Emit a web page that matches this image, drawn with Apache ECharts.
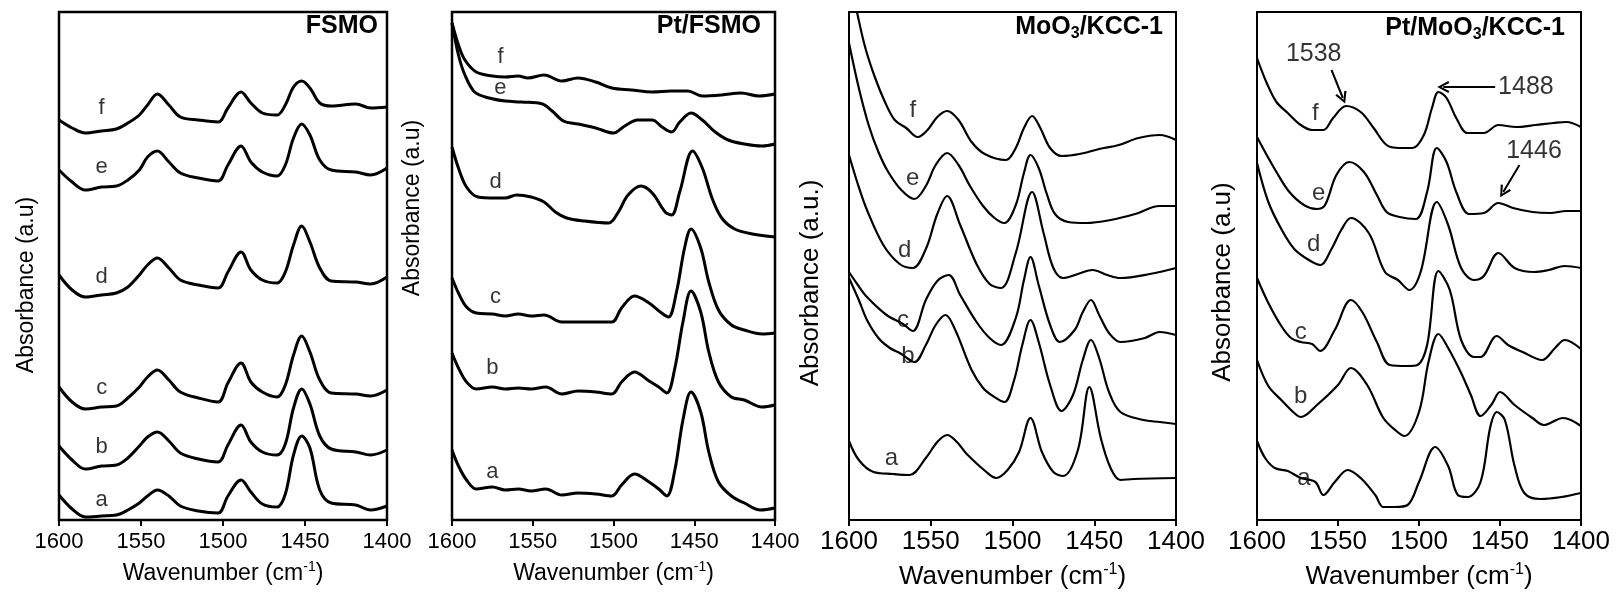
<!DOCTYPE html>
<html><head><meta charset="utf-8">
<script src="https://cdn.jsdelivr.net/npm/echarts@6/dist/echarts.min.js"></script>
<style>html,body{margin:0;padding:0;background:#fff}#c{width:1618px;height:609px}</style>
</head><body><div id="c"></div>
<script>
const FONT = "'Liberation Sans', Arial, Helvetica, sans-serif";

// ---------- Panel 1: FSMO (shared wavenumbers) ----------
const wnFSMO = [1600,1592,1584,1574,1565,1558,1551,1546,1540,1533,1526,1515,1503,1497,1489,1483,1476,1467,1462,1457,1452,1447,1441,1434,1419,1410,1400];
const fsmoF = [400,392,387,389,391,397,405,415,426,415,403,400,398,412,428,417,407,405,415,433,439,432,417,414,416,412,413];
const fsmoE = [350,338,330,333,334,340,350,363,369,358,347,342,339,355,374,358,348,344,355,382,396,385,360,350,348,345,352];
const fsmoD = [245,230,223,225,227,233,245,255,262,252,240,235,232,248,268,250,240,237,248,275,294,278,252,239,238,236,243];
const fsmoC = [133,118,111,113,114,122,133,143,150,140,128,122,118,137,157,138,128,123,135,165,184,168,140,127,126,124,130];
const fsmoB = [74,60,51,54,55,62,74,83,88,79,67,61,58,75,95,78,68,65,76,112,131,116,84,71,68,65,70];
const fsmoA = [25,11,3,4,5,10,17,24,30,24,14,9,7,24,40,28,16,13,26,65,84,72,30,17,15,10,14];

// ---------- Panel 2: Pt/FSMO ----------
const ptF = [[1600,497],[1596,475],[1592,460],[1585,448],[1575,444],[1567,443],[1559,444],[1553,442],[1543,445],[1532,439],[1522,442],[1511,438],[1501,432],[1489,430],[1476,428],[1464,429],[1454,429],[1445,424],[1433,425],[1421,427],[1410,424],[1400,426]];
const ptE = [[1600,497],[1596,465],[1592,445],[1586,428],[1577,422],[1567,419],[1557,418],[1544,416],[1538,409],[1531,399],[1522,396],[1511,392],[1500,387],[1493,394],[1485,400],[1476,400],[1470,393],[1464,388],[1459,398],[1452,407],[1445,400],[1437,388],[1429,380],[1419,376],[1408,374],[1400,376]];
const ptD = [[1600,373],[1596,352],[1591,333],[1584,323],[1573,322],[1567,322],[1560,325],[1551,323],[1543,318],[1536,308],[1529,302],[1518,299],[1503,297],[1497,308],[1491,325],[1483,334],[1476,327],[1468,308],[1464,305],[1459,328],[1451,369],[1445,352],[1439,322],[1433,302],[1425,291],[1414,286],[1400,283]];
const ptC = [[1600,242],[1596,227],[1591,213],[1585,207],[1575,206],[1567,204],[1559,206],[1551,204],[1543,205],[1532,198],[1522,198],[1511,198],[1501,198],[1495,212],[1487,224],[1478,217],[1471,208],[1466,203],[1461,228],[1456,272],[1452,291],[1446,272],[1441,238],[1435,210],[1427,195],[1419,190],[1408,186],[1400,187]];
const ptB = [[1600,167],[1596,152],[1591,138],[1585,131],[1575,133],[1567,131],[1559,132],[1551,131],[1542,133],[1532,126],[1522,129],[1511,128],[1501,126],[1495,138],[1487,148],[1478,139],[1472,133],[1467,127],[1462,152],[1457,198],[1452,229],[1446,208],[1441,168],[1435,138],[1427,123],[1419,120],[1408,113],[1400,115]];
const ptA = [[1600,70],[1596,54],[1591,40],[1585,31],[1575,33],[1567,30],[1559,31],[1551,29],[1542,31],[1532,25],[1522,27],[1511,26],[1501,24],[1495,35],[1487,46],[1478,38],[1472,31],[1467,24],[1462,50],[1457,100],[1452,128],[1446,108],[1441,68],[1435,38],[1427,24],[1419,17],[1409,10],[1400,12]];

// ---------- Panel 3: MoO3/KCC-1 ----------
const moF = [[1600,545],[1595,507],[1590,472],[1584,442],[1578,418],[1572,400],[1565,392],[1558,383],[1552,390],[1546,403],[1540,409],[1533,400],[1525,378],[1517,366],[1504,360],[1498,372],[1493,392],[1488,404],[1483,392],[1477,372],[1470,364],[1459,366],[1447,371],[1435,375],[1423,382],[1410,385],[1400,380]];
const moE = [[1600,477],[1594,432],[1588,395],[1582,368],[1576,348],[1568,330],[1560,321],[1553,334],[1547,355],[1540,367],[1533,355],[1526,334],[1518,314],[1511,302],[1505,297],[1498,315],[1493,347],[1489,365],[1484,352],[1479,326],[1474,306],[1466,298],[1455,297],[1440,300],[1425,306],[1410,314],[1400,314]];
const moD = [[1600,365],[1595,338],[1589,310],[1579,275],[1569,256],[1561,252],[1553,271],[1546,306],[1540,324],[1532,295],[1522,256],[1514,236],[1507,232],[1498,267],[1488,328],[1481,287],[1475,252],[1469,242],[1460,246],[1451,250],[1442,245],[1434,242],[1416,246],[1400,252]];
const moC = [[1600,248],[1595,236],[1589,223],[1577,205],[1567,196],[1561,189],[1553,220],[1546,239],[1539,245],[1532,225],[1522,198],[1514,182],[1507,175],[1498,202],[1493,240],[1489,263],[1484,235],[1477,195],[1471,178],[1462,190],[1457,208],[1452,220],[1447,205],[1441,187],[1434,178],[1419,182],[1410,188],[1400,185]];
const moB = [[1600,242],[1594,220],[1589,200],[1582,182],[1575,172],[1568,166],[1560,158],[1553,175],[1547,195],[1541,205],[1535,190],[1525,150],[1518,132],[1512,124],[1505,118],[1499,140],[1494,175],[1489,200],[1484,178],[1477,135],[1470,109],[1463,125],[1457,160],[1452,180],[1447,162],[1441,128],[1434,108],[1420,100],[1410,98],[1400,96]];
const moA = [[1600,79],[1594,60],[1585,48],[1573,46],[1563,45],[1553,62],[1546,78],[1540,85],[1534,78],[1528,66],[1516,48],[1510,42],[1503,50],[1496,68],[1489,102],[1482,68],[1475,48],[1469,44],[1460,70],[1453,133],[1446,82],[1440,52],[1434,40],[1426,41],[1400,42]];

// ---------- Panel 4: Pt/MoO3/KCC-1 ----------
const pmF = [[1600,462],[1594,437],[1588,418],[1581,407],[1573,395],[1566,390],[1559,390],[1553,402],[1545,414],[1536,408],[1528,392],[1520,375],[1512,372],[1504,372],[1497,385],[1492,412],[1488,428],[1483,422],[1477,402],[1470,387],[1460,387],[1451,395],[1440,393],[1428,395],[1417,397],[1409,398],[1400,393]];
const pmE = [[1600,383],[1594,365],[1588,348],[1580,328],[1571,315],[1563,311],[1558,315],[1551,345],[1543,358],[1534,348],[1526,325],[1520,308],[1512,303],[1502,301],[1495,328],[1489,372],[1483,358],[1477,328],[1469,306],[1460,307],[1451,317],[1442,312],[1430,308],[1419,307],[1409,309],[1400,309]];
const pmD = [[1600,357],[1593,318],[1585,291],[1577,271],[1568,260],[1561,255],[1554,271],[1548,290],[1542,302],[1531,287],[1521,248],[1513,240],[1506,230],[1499,248],[1489,318],[1482,295],[1474,252],[1466,240],[1460,244],[1451,267],[1441,252],[1429,248],[1420,250],[1410,254],[1400,252]];
const pmC = [[1600,242],[1593,217],[1585,194],[1579,182],[1573,178],[1566,176],[1561,169],[1552,190],[1542,220],[1535,208],[1526,178],[1518,155],[1507,154],[1501,155],[1495,175],[1488,249],[1481,230],[1474,180],[1466,163],[1462,163],[1452,184],[1445,175],[1436,168],[1424,160],[1416,172],[1410,180],[1400,171]];
const pmB = [[1600,160],[1593,134],[1585,120],[1577,107],[1573,103],[1563,115],[1550,135],[1542,152],[1532,135],[1522,102],[1514,89],[1509,84],[1500,108],[1494,159],[1488,186],[1482,172],[1474,147],[1468,125],[1462,104],[1455,116],[1450,128],[1441,115],[1430,102],[1423,95],[1411,102],[1400,94]];
const pmA = [[1600,79],[1595,62],[1589,52],[1581,49],[1573,42],[1564,38],[1559,25],[1552,38],[1544,50],[1536,42],[1527,25],[1522,13],[1515,13],[1507,15],[1500,38],[1490,73],[1482,54],[1476,25],[1470,23],[1462,38],[1456,93],[1452,108],[1447,100],[1441,54],[1435,27],[1425,21],[1412,23],[1400,27]];

// ---------- curve letters and annotations ----------
const lab1 = [[1574,412,'f'],[1574,353,'e'],[1574,243,'d'],[1574,132,'c'],[1574,73,'b'],[1574,20,'a']];
const lab2 = [[1570,463,'f'],[1570,432,'e'],[1573,338,'d'],[1573,223,'c'],[1575,152,'b'],[1575,48,'a']];
const lab3 = [[1561,410,'f'],[1561,342,'e'],[1566,270,'d'],[1567,200,'c'],[1564,164,'b'],[1574,62,'a']];
const lab4 = [[1564,407,'f'],[1562,327,'e'],[1565,276,'d'],[1573,188,'c'],[1573,124,'b'],[1571,42,'a']];
const annoText = [[1565,466,'1538'],[1434,433,'1488'],[1429,369,'1446']];
const annoArrows = [[[1554,450],[1547,422]],[[1453,433],[1485,433]],[[1438,355],[1448,328]]];

const panels = [
  {left:59,  width:328, lw:3,   bw:2.5, tick:22, nameFs:23, letFs:22, gap:40,
   curves:[fsmoA,fsmoB,fsmoC,fsmoD,fsmoE,fsmoF].map(a => wnFSMO.map((w,i)=>[w,a[i]])), labels:lab1},
  {left:452, width:323, lw:3,   bw:2.5, tick:22, nameFs:23, letFs:22, gap:40,
   curves:[ptA,ptB,ptC,ptD,ptE,ptF], labels:lab2},
  {left:849, width:327, lw:2.2, bw:2,   tick:26, nameFs:26, letFs:24, gap:42,
   curves:[moA,moB,moC,moD,moE,moF], labels:lab3},
  {left:1257,width:324, lw:2.2, bw:2,   tick:26, nameFs:26, letFs:24, gap:42,
   curves:[pmA,pmB,pmC,pmD,pmE,pmF], labels:lab4}
];

const grid = [], xAxis = [], yAxis = [], series = [];
panels.forEach((p, gi) => {
  grid.push({left:p.left, top:12, width:p.width, height:508, show:true, borderColor:'#000',
             borderWidth:p.bw, backgroundColor:'transparent', outerBoundsMode:'none', containLabel:false});
  xAxis.push({type:'value', gridIndex:gi, min:1400, max:1600, interval:50, inverse:true,
    axisLine:{show:false}, splitLine:{show:false},
    axisTick:{show:true, length:6, lineStyle:{color:'#000', width:2}},
    axisLabel:{color:'#000', fontSize:p.tick, fontFamily:FONT, margin:(p.tick===22?11:9),
               formatter:(v) => String(v)},
    name:'Wavenumber (cm{sup|-1})', nameLocation:'middle', nameGap:p.gap,
    nameTextStyle:{color:'#000', fontSize:p.nameFs, fontFamily:FONT,
      rich:{sup:{color:'#000', fontSize:Math.round(p.nameFs*0.6), fontFamily:FONT, verticalAlign:'top', padding:[0,0,13,0]}}}
  });
  yAxis.push({type:'value', gridIndex:gi, min:0, max:508, show:false});
  p.curves.forEach(d => series.push({type:'line', xAxisIndex:gi, yAxisIndex:gi, data:d, smooth:0.35,
    symbol:'none', showSymbol:false, clip:true, silent:true, z:2,
    lineStyle:{color:'#000', width:p.lw}, itemStyle:{color:'#000'}}));
  series.push({type:'scatter', xAxisIndex:gi, yAxisIndex:gi, silent:true, z:5,
    symbolSize:0, itemStyle:{color:'#000'},
    data:p.labels.map(l => ({name:l[2], value:[l[0], l[1]]})),
    label:{show:true, position:'inside', formatter:'{b}', color:'#000', fontSize:p.letFs, fontFamily:FONT,
           textBorderWidth:0}});
});

// annotation numbers (panel 4)
series.push({type:'scatter', xAxisIndex:3, yAxisIndex:3, silent:true, z:6,
  symbolSize:0, itemStyle:{color:'#000'},
  data:annoText.map(t => ({name:t[2], value:[t[0], t[1]]})),
  label:{show:true, position:'inside', formatter:'{b}', color:'#000', fontSize:25, fontFamily:FONT, textBorderWidth:0}
});
// annotation arrows (panel 4)
const ARROW = 'path://M0,10 L5,0 L10,10 L8.3,10.8 L5,3.6 L1.7,10.8 Z';
series.push({type:'line', xAxisIndex:3, yAxisIndex:3, data:[], silent:true, z:6,
  itemStyle:{color:'#000'}, lineStyle:{color:'#000'},
  markLine:{silent:true, animation:false, symbol:['none', ARROW], symbolSize:12,
    lineStyle:{color:'#000', width:2, type:'solid'}, itemStyle:{color:'#000'}, label:{show:false},
    emphasis:{disabled:true},
    data:annoArrows.map(a => [{coord:a[0]}, {coord:a[1]}])}
});

const titleStyle = {color:'#000', fontSize:25, fontWeight:'bold', fontFamily:FONT,
  rich:{s:{color:'#000', fontSize:16, fontWeight:'bold', fontFamily:FONT, verticalAlign:'bottom', padding:[14,0,0,0]}}};
const title = [
  {text:'FSMO', right:1618-378, top:14, padding:0, textStyle:titleStyle},
  {text:'Pt/FSMO', right:1618-761, top:14, padding:0, textStyle:titleStyle},
  {text:'MoO{s|3}/KCC-1', right:1618-1163, top:12, padding:0, textStyle:titleStyle},
  {text:'Pt/MoO{s|3}/KCC-1', right:1618-1565, top:13, padding:0, textStyle:titleStyle}
];

function ytitle(x, y, txt, fs) {
  return {type:'text', x:x, y:y, rotation:Math.PI/2, silent:true,
    style:{text:txt, fill:'#000', font:fs + 'px ' + FONT, textAlign:'center', textVerticalAlign:'middle',
           align:'center', verticalAlign:'middle'}};
}
const graphic = [
  ytitle(27, 285, 'Absorbance (a.u)', 23),
  ytitle(413, 208, 'Absorbance (a.u)', 23),
  ytitle(811, 283, 'Absorbance (a.u.)', 26),
  ytitle(1223, 282, 'Absorbance (a.u)', 26)
];

const chart = echarts.init(document.getElementById('c'), null, {renderer:'canvas'});
chart.setOption({animation:false, backgroundColor:'#fff', textStyle:{fontFamily:FONT},
  title, grid, xAxis, yAxis, series, graphic});
</script></body></html>
